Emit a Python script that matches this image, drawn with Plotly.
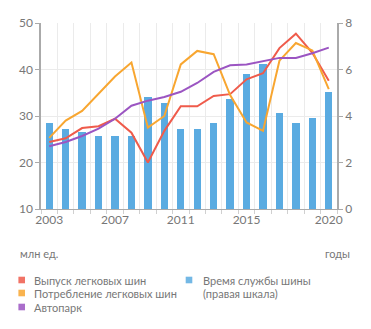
import plotly.graph_objects as go

years = list(range(2003, 2021))
production = [24.4, 25.2, 27.4, 27.8, 29.4, 26.4, 20.0, 26.8, 32.1, 32.1, 34.3, 34.7, 37.9, 39.2, 44.6, 47.7, 43.6, 37.6]
consumption = [25.3, 29.0, 31.1, 34.8, 38.5, 41.5, 27.5, 30.0, 41.1, 44.0, 43.3, 34.5, 28.6, 26.8, 41.9, 45.7, 44.1, 35.8]
fleet = [23.5, 24.4, 25.7, 27.3, 29.4, 32.2, 33.3, 34.1, 35.2, 37.1, 39.5, 40.9, 41.1, 41.8, 42.5, 42.5, 43.5, 44.7]
tire_life = [3.72, 3.42, 3.31, 3.12, 3.12, 3.12, 4.82, 4.54, 3.42, 3.42, 3.72, 4.72, 5.82, 6.23, 4.11, 3.72, 3.92, 5.02]

x_ticks = [2003, 2007, 2011, 2015, 2020]
left_ticks = [10, 20, 30, 40, 50]
right_ticks = [0, 2, 4, 6, 8]

RED = "#ef5b4b"
ORANGE = "#f8a630"
PURPLE = "#9b55c2"
BLUE = "#5aabe1"
TXT = "#777777"
GRID = "#ebebeb"
AXIS = "#aaaaaa"
FONT = "Lato"

W, H = 371, 329
ML, MR, MT, MB = 41, 34, 23, 120

fig = go.Figure()
fig.add_trace(go.Bar(x=years, y=tire_life, width=0.45, marker=dict(color=BLUE, line=dict(width=0)),
                     name="Время службы шины (правая шкала)", yaxis="y"))
fig.add_trace(go.Scatter(x=years, y=production, mode="lines", line=dict(color=RED, width=2),
                         name="Выпуск легковых шин", yaxis="y2"))
fig.add_trace(go.Scatter(x=years, y=consumption, mode="lines", line=dict(color=ORANGE, width=2),
                         name="Потребление легковых шин", yaxis="y2"))
fig.add_trace(go.Scatter(x=years, y=fleet, mode="lines", line=dict(color=PURPLE, width=2),
                         name="Автопарк", yaxis="y2"))

boundaries = [y + 0.5 for y in range(2002, 2021)]

fig.update_layout(
    width=W, height=H,
    margin=dict(l=ML, r=MR, t=MT, b=MB),
    paper_bgcolor="white", plot_bgcolor="white",
    showlegend=False,
    font=dict(family=FONT, size=12, color=TXT),
    bargap=0,
    xaxis=dict(range=[2002.5, 2020.5], tickvals=x_ticks, ticktext=[str(v) for v in x_ticks],
               showgrid=False, zeroline=False, showline=True, linecolor=AXIS, linewidth=1,
               ticks="", tickfont=dict(size=12, color=TXT),
               minor=dict(tickvals=boundaries, showgrid=True, gridcolor=GRID, gridwidth=1,
                          ticks="outside", ticklen=4, tickcolor="#d0d0d0")),
    yaxis=dict(range=[0, 8], tickvals=right_ticks, side="right", showgrid=True, gridcolor=GRID,
               zeroline=False, showline=True, linecolor=AXIS, linewidth=1.5,
               ticks="outside", ticklen=4, tickcolor=AXIS, tickfont=dict(size=12, color=TXT)),
    yaxis2=dict(range=[10, 50], tickvals=left_ticks, side="left", overlaying="y", showgrid=False,
                zeroline=False, showline=True, linecolor=AXIS, linewidth=1.5,
                ticks="outside", ticklen=4, tickcolor=AXIS, tickfont=dict(size=12, color=TXT)),
)


def pap_x(px):
    return (px - ML) / (W - ML - MR)


def pap_y(py):
    return (H - MB - py) / (H - MT - MB)


texts = [
    ("млн ед.", 18, 253, "left"),
    ("годы", 352, 253, "right"),
    ("Выпуск легковых шин", 32, 280, "left"),
    ("Потребление легковых шин", 32, 293, "left"),
    ("Автопарк", 32, 307, "left"),
    ("Время службы шины", 201, 280, "left"),
    ("(правая шкала)", 201, 293, "left"),
]
for t, x, y, anchor in texts:
    fig.add_annotation(text=t, x=pap_x(x), y=pap_y(y), xref="paper", yref="paper",
                       xanchor=anchor, yanchor="middle", showarrow=False,
                       font=dict(family=FONT, size=11, color=TXT))

markers = [(21.7, 280, RED), (21.7, 293, ORANGE), (21.7, 307, PURPLE), (189, 280, BLUE)]
for cx, cy, col in markers:
    fig.add_shape(type="rect", xref="paper", yref="paper",
                  x0=pap_x(cx - 3.3), x1=pap_x(cx + 3.3), y0=pap_y(cy + 3.3), y1=pap_y(cy - 3.3),
                  fillcolor=col, line=dict(width=0), opacity=0.85)

fig.write_html("out.html")
